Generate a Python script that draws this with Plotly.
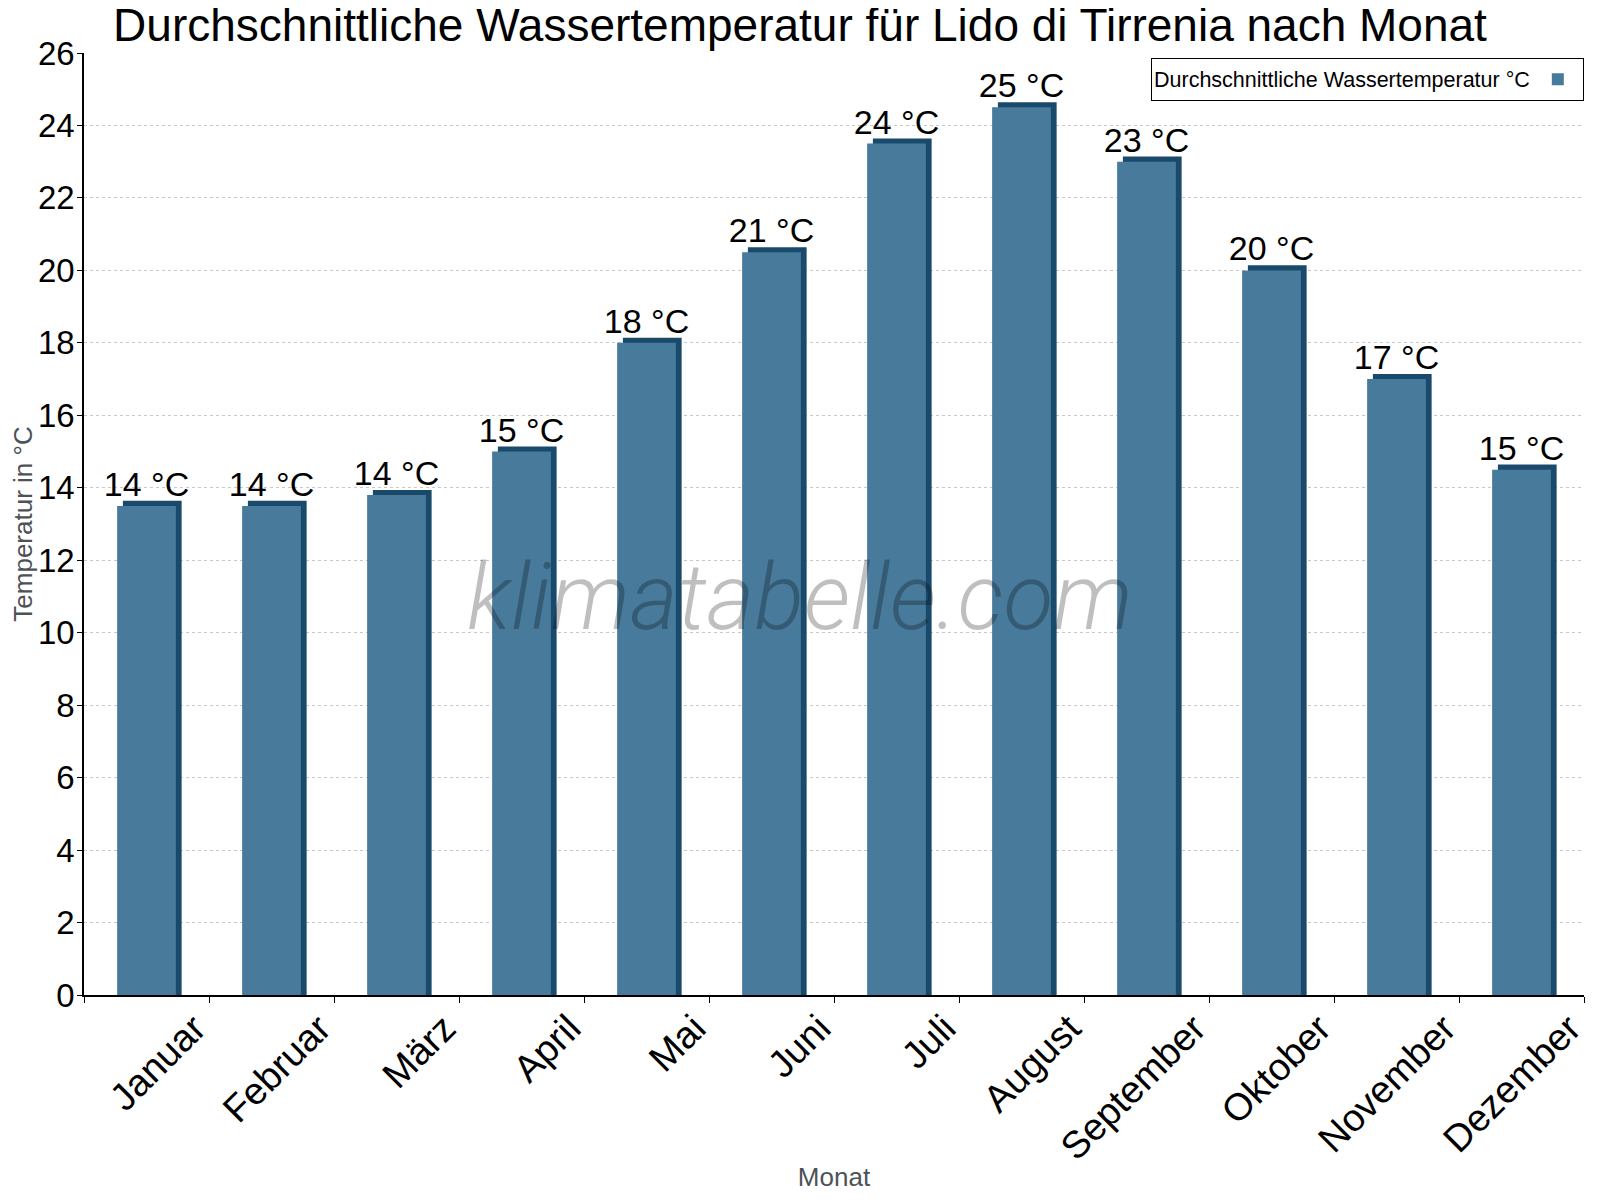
import plotly.graph_objects as go

# monthly mean water temperature, Lido di Tirrenia
months = ["Januar", "Februar", "März", "April", "Mai", "Juni",
          "Juli", "August", "September", "Oktober", "November", "Dezember"]
water_temp = [13.5, 13.5, 13.8, 15.0, 18.0, 20.5, 23.5, 24.5, 23.0, 20.0, 17.0, 14.5]
temp_labels = ["14 °C", "14 °C", "14 °C", "15 °C", "18 °C", "21 °C",
               "24 °C", "25 °C", "23 °C", "20 °C", "17 °C", "15 °C"]
y_ticks = list(range(0, 27, 2))

FONT = "Liberation Sans, Arial, sans-serif"
FRONT = "#477a9b"
SIDE = "#1a4a6b"
GREY = "#4d5257"
DEPTH = 0.14      # height of the dark top face, in °C
BAR_W = 0.47

fig = go.Figure()

# dark "depth" bar behind, shifted a little right and up -> fake 3D look
fig.add_trace(go.Bar(
    x=months, y=[v + DEPTH for v in water_temp],
    width=BAR_W, offset=-BAR_W / 2 + 0.046,
    marker=dict(color=SIDE, line=dict(width=0)),
    showlegend=False, hoverinfo="skip",
))
fig.add_trace(go.Bar(
    x=months, y=water_temp, name="",
    width=BAR_W, offset=-BAR_W / 2,
    marker=dict(color=FRONT, line=dict(width=0)),
    text=temp_labels, textposition="outside", constraintext="none",
    textfont=dict(family=FONT, size=34, color="black"),
    cliponaxis=False,
))

# page body adds 8px, so the figure is a bit smaller than the window
fig.update_layout(
    width=1584, height=1184,
    barmode="overlay",
    plot_bgcolor="white", paper_bgcolor="white",
    margin=dict(l=76, r=8, t=45, b=197),
    font=dict(family=FONT, color="black"),
    title=dict(
        text="Durchschnittliche Wassertemperatur für Lido di Tirrenia nach Monat",
        x=0.5, xanchor="center", xref="container",
        y=0.999, yanchor="top", yref="container", pad=dict(t=0),
        font=dict(family=FONT, size=46, color="black"),
    ),
    legend=dict(
        x=1, xanchor="right", y=0.995, yanchor="top",
        bgcolor="white", bordercolor="black", borderwidth=1,
        font=dict(family=FONT, size=21.5, color="black"),
        title=dict(text="Durchschnittliche Wassertemperatur °C", side="left",
                   font=dict(family=FONT, size=21.5, color="black")),
    ),
    showlegend=True,
    annotations=[dict(
        text="klimatabelle.com", xref="paper", yref="paper",
        x=0.477, y=0.422, showarrow=False,
        font=dict(family="Roboto", size=92, color="rgba(0,0,0,0.25)",
                  style="italic", weight=300),
    )],
)

fig.update_xaxes(
    automargin=False,
    showline=True, linecolor="black", linewidth=1.5,
    ticks="outside", tickson="boundaries", ticklen=6, tickcolor="black",
    tickangle=-45, ticklabelshift=48, ticklabelstandoff=-6,
    tickfont=dict(family=FONT, size=38, color="black"),
    title=dict(text="Monat", font=dict(family=FONT, size=26, color=GREY)),
    showgrid=False,
)
fig.update_yaxes(
    automargin=False,
    range=[0, 26], tickvals=y_ticks,
    showline=True, linecolor="black", linewidth=1.5,
    ticks="outside", ticklen=5, tickcolor="black", ticklabelstandoff=-4,
    tickfont=dict(family=FONT, size=33, color="black"),
    showgrid=True, gridcolor="#c8c8c8", griddash="dot", gridwidth=1,
    zeroline=False,
    title=dict(text="Temperatur in °C", font=dict(family=FONT, size=26, color=GREY)),
)

fig.write_html("out.html")
